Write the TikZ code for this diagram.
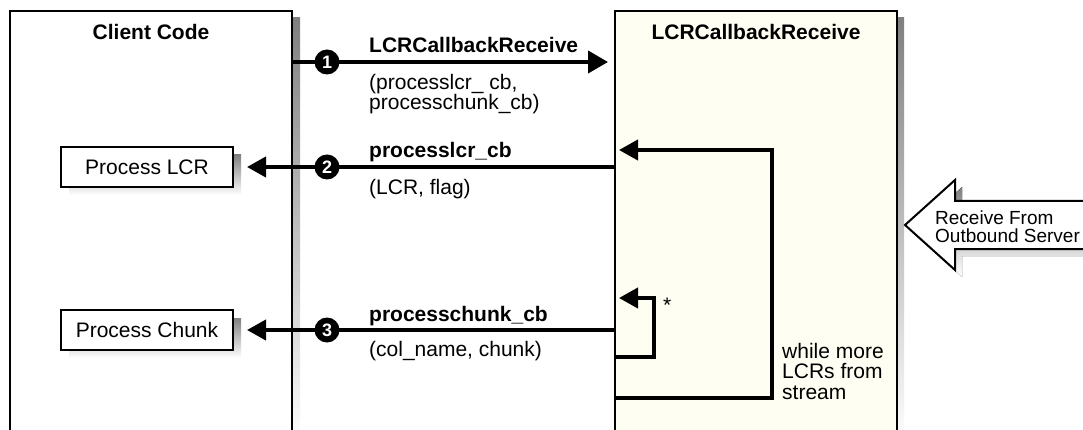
\documentclass[tikz,border=0pt]{standalone}
\usepackage{fontspec}
\setmainfont{Liberation Sans}
\usetikzlibrary{arrows.meta,calc}
\definecolor{ivorybg}{HTML}{FEFEF2}
\definecolor{shade}{HTML}{E6E6E6}
\begin{document}
\begin{tikzpicture}[x=1pt,y=-1pt,
  font=\fontsize{21}{17}\selectfont,
  lane/.style={draw, line width=2pt, rectangle, minimum width=282pt, minimum height=434pt, inner sep=0pt},
  procbox/.style={draw, line width=2pt, fill=white, rectangle, minimum width=172pt, minimum height=40pt, inner sep=0pt},
  callarrow/.style={line width=4pt, -{Triangle[length=20pt,width=22pt]}},
  backarrow/.style={line width=4pt, -{Triangle[length=19pt,width=20pt]}},
  num/.style={circle, fill=black, text=white, font=\fontsize{18}{18}\selectfont\bfseries, inner sep=0pt, minimum size=25pt},
  lbl/.style={anchor=base west, inner sep=0pt},
  blbl/.style={lbl, font=\fontsize{21}{17}\selectfont\bfseries},
  ttl/.style={anchor=base, inner sep=0pt, font=\fontsize{21}{17}\selectfont\bfseries}
]
\useasboundingbox (0,0) rectangle (1083,430);
\clip (0,0) rectangle (1083,430);
\fill[white] (0,0) rectangle (1083,430);

% shadows of lanes
\fill[shade] (292,18) rectangle (300,445);
\fill[shade] (897,18) rectangle (904,445);

% lanes
\node[lane, fill=white] (client) at (151,228) {};
\node[lane, fill=ivorybg] (rb) at (756,228) {};
\node[ttl] (clientt) at (151,40) {Client Code};
\node[ttl] (rbt) at (756,40) {LCRCallbackReceive};

% process boxes with shadows
\fill[shade] (69,155) rectangle (241,195);
\fill[shade] (69,318) rectangle (241,358);
\node[procbox] (plcr) at (147,167) {Process LCR};
\node[procbox] (pchunk) at (147,330) {Process Chunk};

% row coordinates
\coordinate (y1) at (0,62);
\coordinate (y2) at (0,167);
\coordinate (y3) at (0,330);
\coordinate (yl) at (0,398);
\coordinate (yi) at (0,357);
\coordinate (loopc) at (772,150);
\coordinate (innc) at (654,298);

% arrow 1
\draw[callarrow] (client.east |- y1) -- ([xshift=-6pt]rb.west |- y1);
\node[num] (n1) at (327,62) {1};
\node[blbl] (l1) at (369,53) {LCRCallbackReceive};
\node[lbl] (l1a) at (369,90) {(processlcr\_ cb,};
\node[lbl] (l1b) at (369,110) {processchunk\_cb)};

% arrow 2
\draw[backarrow] (rb.west |- y2) -- ([xshift=13pt]plcr.east);
\node[num] (n2) at (327,167) {2};
\node[blbl] (l2) at (369,158) {processlcr\_cb};
\node[lbl] (l2a) at (369,195) {(LCR, flag)};

% arrow 3
\draw[backarrow] (rb.west |- y3) -- ([xshift=13pt]pchunk.east);
\node[num] (n3) at (327,330) {3};
\node[blbl] (l3) at (369,321) {processchunk\_cb};
\node[lbl] (l3a) at (369,356) {(col\_name, chunk)};

% outer loop
\draw[backarrow] (rb.west |- yl) -| (loopc) -- ([xshift=5pt]rb.west |- loopc);
\node[lbl] (w1) at (782,358) {while more};
\node[lbl] (w2) at (782,378) {LCRs from};
\node[lbl] (w3) at (782,399) {stream};

% inner loop
\draw[backarrow] (rb.west |- yi) -| (innc) -- ([xshift=5pt]rb.west |- innc);
\node[lbl] (star) at (663,312) {*};

% big arrow from outbound server
\fill[shade] (912,232) -- (962,187) -- (962,208) -- (1095,208) -- (1095,256) -- (962,256) -- (962,277) -- cycle;
\draw[line width=2pt, fill=white, line join=miter] (905,225) -- (955,180) -- (955,201) -- (1095,201) -- (1095,249) -- (955,249) -- (955,270) -- cycle;
\node[lbl, font=\fontsize{19}{17}\selectfont] (r1) at (935,225) {Receive From};
\node[lbl, font=\fontsize{19}{17}\selectfont] (r2) at (935,243) {Outbound Server};
\end{tikzpicture}
\end{document}
